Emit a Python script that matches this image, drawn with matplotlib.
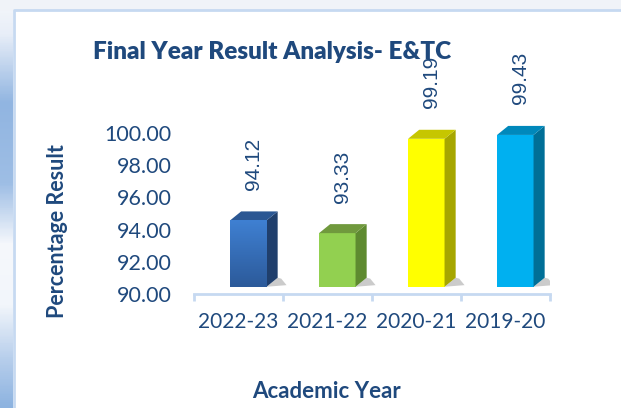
import numpy as np
import matplotlib
matplotlib.use("Agg")
import matplotlib.pyplot as plt
from matplotlib.patches import Polygon
from matplotlib.colors import LinearSegmentedColormap

# data
years = ["2022-23", "2021-22", "2020-21", "2019-20"]
results = [94.12, 93.33, 99.19, 99.43]
front_cols = ["#3469b5", "#92d050", "#ffff00", "#00b0f0"]
side_cols = ["#203f6c", "#5e8a30", "#a6a600", "#006f97"]
top_cols = ["#2b5793", "#70993d", "#c6c600", "#0088bb"]

navy = "#1f497d"
ymin = 90.0

fig = plt.figure(figsize=(6.21, 4.08), dpi=100)

# background: left gradient strip + top strip + frame
bg = fig.add_axes([0, 0, 1, 1], zorder=-5)
bg.set_xlim(0, 621); bg.set_ylim(408, 0); bg.axis("off")
stops = [(0.0, "#f4f7fb"), (0.08, "#e8eef8"), (0.25, "#91b5e1"), (0.45, "#9ebee5"),
         (0.6, "#f6f8fc"), (0.75, "#f2f6fb"), (0.88, "#b8cfec"), (1.0, "#8db3e0")]
cmap = LinearSegmentedColormap.from_list("strip", stops)
bg.imshow(np.linspace(0, 1, 200).reshape(-1, 1), cmap=cmap, aspect="auto",
          extent=[0, 13, 408, 0])
bg.fill_between([0, 621], 0, 9, color="#f0f3f8")
bg.plot([14, 14, 621], [408, 10, 10], color="#c6d9f1", lw=2)

ax = fig.add_axes([194 / 621, (408 - 294) / 408, 356 / 621, (294 - 30) / 408])

w = 0.41      # front face width
dx = 0.11     # front face shift right
lift = 0.45   # front face base above axis
ddx, ddy = 0.125, 0.56   # depth of the box

blue_grad = LinearSegmentedColormap.from_list("bg", ["#2c5a9a", "#3f80d2"])

x = np.arange(len(years))
for i, v in enumerate(results):
    left = x[i] + dx - w / 2
    right = left + w
    b = ymin + lift
    t = v + lift
    # soft shadow at the base
    ax.add_patch(Polygon([(right, b), (right + ddx + 0.1, b + 0.1),
                          (right + ddx + 0.04, b + ddy * 0.9), (right + ddx, b + ddy)],
                         closed=True, color="#8c8c8c", alpha=0.45, lw=0, zorder=1))
    bar = ax.bar(left, t - b, width=w, bottom=b, align="edge", color=front_cols[i], zorder=3)
    if i == 0:
        im = ax.imshow(np.linspace(0, 1, 100).reshape(-1, 1), cmap=blue_grad, origin="lower",
                       aspect="auto", extent=[left, right, b, t], zorder=3.1)
        im.set_clip_path(bar[0])
    ax.add_patch(Polygon([(right, b), (right + ddx, b + ddy), (right + ddx, t + ddy), (right, t)],
                         closed=True, color=side_cols[i], lw=0, zorder=3))
    ax.add_patch(Polygon([(left, t), (right, t), (right + ddx, t + ddy), (left + ddx, t + ddy)],
                         closed=True, color=top_cols[i], lw=0, zorder=3))
    ax.text(x[i] + 0.17, t + 1.9, f"{v:.2f}", rotation=90, ha="center", va="bottom",
            fontsize=15, color=navy, family="Liberation Sans", zorder=4)

ax.set_xlim(-0.5, 3.5)
ax.set_ylim(ymin, ymin + (294 - 30) / 16.1)

for s in ["top", "right", "left"]:
    ax.spines[s].set_visible(False)
ax.spines["bottom"].set_color("#c6d9f1")
ax.spines["bottom"].set_linewidth(2)

ax.set_xticks(x)
ax.set_xticklabels(years, fontsize=15, color=navy, family="Lato")
ax.set_xticks(np.arange(-0.5, 4, 1), minor=True)
ax.tick_params(axis="x", which="major", length=0, pad=13)
ax.tick_params(axis="x", which="minor", length=5, width=2, color="#c6d9f1", direction="out")

ax.set_yticks(np.arange(90, 101, 2))
ax.set_yticklabels([f"{t:.2f}" for t in np.arange(90, 101, 2)], fontsize=15.5, color=navy, family="Lato")
ax.tick_params(axis="y", length=0, pad=16)

fig.text(272 / 621, 1 - 52 / 408, "Final Year Result Analysis- E&TC", ha="center", va="center",
         fontsize=17.5, fontweight="heavy", color=navy, family="Lato")
fig.text(57 / 621, 1 - 231 / 408, "Percentage Result", rotation=90, ha="center", va="center",
         fontsize=15.5, fontweight="bold", color=navy, family="Lato")
fig.text(326 / 621, 1 - 391 / 408, "Academic Year", ha="center", va="center",
         fontsize=16, fontweight="bold", color=navy, family="Lato")

fig.savefig("out.png", dpi=100)
